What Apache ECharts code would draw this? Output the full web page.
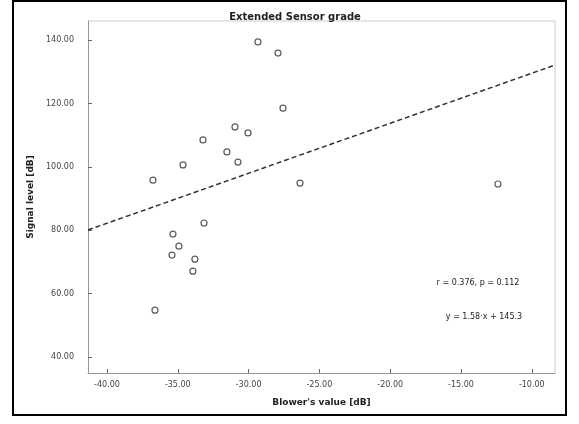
<!DOCTYPE html>
<html><head><meta charset="utf-8">
<script src="https://cdn.jsdelivr.net/npm/echarts@6/dist/echarts.min.js"></script>
<style>html,body{margin:0;padding:0;background:#fff}#c{width:579px;height:424px}</style>
</head><body><div id="c"></div>
<script>
const xTicks = [-40, -35, -30, -25, -20, -15, -10];
const yTicks = [40, 60, 80, 100, 120, 140];
const xValues = [-29.34, -27.92, -27.57, -30.96, -30.04, -33.22, -31.53, -30.75, -34.63, -36.75, -26.37, -12.39, -33.15, -35.34, -34.92, -35.41, -33.79, -33.93, -36.61];
const yValues = [139.4, 135.9, 118.5, 112.6, 110.7, 108.5, 104.7, 101.5, 100.6, 95.8, 94.9, 94.6, 82.3, 78.8, 75.0, 72.2, 70.9, 67.1, 54.8];
const fitX = [-41.34, -8.36];
const fitY = [80.1, 132.1];
const titleText = 'Extended Sensor grade';
const xName = "Blower's value [dB]";
const yName = 'Signal level [dB]';
const note1 = 'r = 0.376, p = 0.112';
const note2 = 'y = 1.58·x + 145.3';

const chart = echarts.init(document.getElementById('c'));
const pts = xValues.map((x, i) => [x, yValues[i]]);
chart.setOption({
  animation: false,
  backgroundColor: '#fff',
  title: { text: titleText, left: 290, top: 7, textAlign: 'center',
    textStyle: { fontSize: 10, fontWeight: 'bold', color: '#222', fontFamily: 'DejaVu Sans' } },
  grid: { left: 88, right: 24, top: 21, bottom: 51 },
  xAxis: {
    type: 'value', min: -41.34, max: -8.36,
    name: xName, nameLocation: 'middle', nameGap: 25,
    nameTextStyle: { fontSize: 9, fontWeight: 'bold', color: '#222', fontFamily: 'DejaVu Sans' },
    axisLine: { show: true, lineStyle: { color: '#999' } },
    axisTick: { show: true, customValues: xTicks, length: 4, inside: true, lineStyle: { color: '#666' } },
    axisLabel: { customValues: xTicks, fontSize: 8, color: '#444', margin: 8, fontFamily: 'DejaVu Sans',
      formatter: v => v.toFixed(2) },
    splitLine: { show: false }
  },
  yAxis: {
    type: 'value', min: 35.0, max: 146.0,
    name: yName, nameLocation: 'middle', nameGap: 50, nameRotate: 90,
    nameTextStyle: { fontSize: 9, fontWeight: 'bold', color: '#222', fontFamily: 'DejaVu Sans' },
    axisLine: { show: true, lineStyle: { color: '#999' } },
    axisTick: { show: true, customValues: yTicks, length: 4, inside: true, lineStyle: { color: '#666' } },
    axisLabel: { customValues: yTicks, fontSize: 8, color: '#444', margin: 14, fontFamily: 'DejaVu Sans',
      formatter: v => v.toFixed(2) },
    splitLine: { show: false }
  },
  series: [
    { type: 'line', data: fitX.map((x, i) => [x, fitY[i]]), symbol: 'none',
      lineStyle: { color: '#333', width: 1.5, type: [5, 3] }, z: 1 },
    { type: 'scatter', data: pts, symbol: 'circle', symbolSize: 6,
      itemStyle: { color: 'rgba(255,255,255,0)', borderColor: '#333', borderWidth: 1.2 }, z: 3 }
  ],
  graphic: [
    { type: 'rect', shape: { x: 13, y: 1, width: 553, height: 414 }, style: { fill: 'none', stroke: '#000', lineWidth: 2 }, silent: true },
    { type: 'line', shape: { x1: 88, y1: 21, x2: 555, y2: 21 }, style: { stroke: '#ccc', lineWidth: 1 } },
    { type: 'line', shape: { x1: 555, y1: 21, x2: 555, y2: 373 }, style: { stroke: '#ccc', lineWidth: 1 } },
    { type: 'text', x: 478, y: 283, style: { text: note1, fontSize: 8, fill: '#222', align: 'center', verticalAlign: 'middle', fontFamily: 'DejaVu Sans' } },
    { type: 'text', x: 484, y: 317, style: { text: note2, fontSize: 8, fill: '#222', align: 'center', verticalAlign: 'middle', fontFamily: 'DejaVu Sans' } }
  ]
});
</script></body></html>
